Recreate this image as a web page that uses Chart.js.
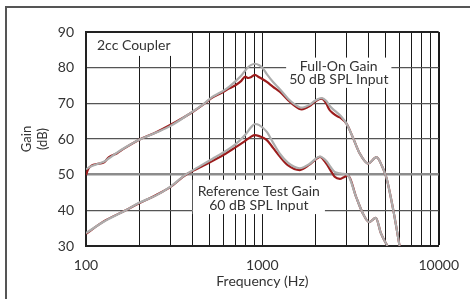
<!DOCTYPE html>
<html>
<head>
<meta charset="utf-8">
<script src="https://cdn.jsdelivr.net/npm/chart.js@4.4.1/dist/chart.umd.min.js"></script>
<style>
  html, body { margin: 0; padding: 0; background: #fff; }
  canvas { display: block; }
</style>
</head>
<body>
<canvas id="gainChart" width="470" height="299"></canvas>
<script>
// Full-On Gain, 50 dB SPL input (Hz / dB)
const fullOnFreq = [100, 103, 108, 115, 126, 135, 150, 164, 200, 250, 300, 400, 470, 520, 570, 600, 650, 700, 760, 800, 830, 860, 906, 960, 1000, 1060, 1150, 1260, 1400, 1500, 1670, 1850, 2000, 2170, 2300, 2400, 2520, 2650, 2800, 3000, 3250, 3560, 3980, 4440, 4750, 5050, 5520, 6000];
const fullOnGray = [51.5, 51.9, 52.4, 52.9, 53.6, 54.6, 56.2, 57.4, 59.8, 61.8, 63.6, 67.6, 70.0, 71.8, 72.9, 73.5, 74.7, 76.1, 77.8, 79.2, 80.1, 80.7, 81.1, 80.7, 80.0, 78.2, 76.0, 73.9, 71.3, 70.0, 68.8, 69.6, 70.8, 71.5, 70.7, 69.4, 68.3, 67.4, 66.3, 64.3, 60.6, 56.0, 53.1, 54.9, 52.6, 49.2, 40.2, 30.0];
const fullOnRed = [49.9, 51.6, 52.6, 53.0, 53.4, 54.9, 56.0, 57.3, 59.8, 61.9, 63.9, 67.5, 69.9, 71.6, 72.6, 73.2, 74.2, 75.0, 76.3, 77.5, 77.1, 77.3, 78.0, 77.3, 76.8, 76.0, 74.6, 73.2, 70.9, 69.6, 68.3, 69.2, 70.6, 71.3, 70.0, 68.2, 67.2, 66.4, 65.8, 64.3, 60.6, 56.0, 53.1, 54.9, 52.6, 49.2, 40.2, 30.0];

// Reference Test Gain, 60 dB SPL input
const refFreq = [100, 126, 168, 200, 250, 300, 367, 450, 520, 600, 700, 800, 860, 906, 960, 1060, 1150, 1260, 1400, 1630, 1850, 2000, 2120, 2300, 2450, 2570, 2750, 2900, 3060, 3400, 3710, 4030, 4400, 4700, 5120];
const refGray = [33.6, 36.8, 40.0, 42.1, 44.2, 46.6, 50.0, 52.6, 54.4, 56.2, 58.4, 61.2, 63.2, 64.2, 63.9, 62.0, 59.0, 55.8, 53.3, 51.8, 53.0, 54.4, 55.1, 53.9, 52.0, 50.8, 50.4, 50.2, 49.8, 43.8, 39.2, 36.7, 37.9, 33.6, 30.0];
const refRed = [33.4, 36.9, 40.0, 42.0, 44.3, 46.5, 49.9, 52.2, 53.8, 55.5, 57.6, 59.5, 60.6, 61.1, 60.8, 59.7, 57.5, 55.0, 52.6, 51.3, 52.8, 54.2, 55.0, 53.2, 51.0, 49.4, 48.8, 49.3, 49.8, 43.8, 39.2, 36.7, 37.9, 33.6, 30.0];

const xLabels = [100, 1000, 10000];
const yTicks = [30, 40, 50, 60, 70, 80, 90];

// log grid: 1..9 in each decade
const xGrid = [];
for (let i = 0; i < xLabels.length - 1; i++) {
  for (let k = 1; k <= 9; k++) xGrid.push(k * xLabels[i]);
}
xGrid.push(xLabels[xLabels.length - 1]);

function toPoints(freqs, vals) {
  return freqs.map((f, i) => ({ x: f, y: vals[i] }));
}

const GRAY = '#adadad';
const RED = '#9c1c1c';
const TEXT = '#333';

// text notes anchored in data coords, white box behind them hides the grid
const notes = [
  { lines: ['Full-On Gain', '50 dB SPL Input'], f: 2712, v: 80.3, padX: 3, padTop: 9, padBottom: 8 },
  { lines: ['Reference Test Gain', '60 dB SPL Input'], f: 955, v: 45.2, padX: 5, padTop: 12, padBottom: 9 }
];
const corner = { text: '2cc Coupler', f: 115.4, v: 86.1 };

const notePlugin = {
  id: 'notes',
  beforeDatasetsDraw(chart) {
    const { ctx, chartArea, scales } = chart;
    ctx.save();
    ctx.font = '14px Lato';
    ctx.textBaseline = 'middle';

    // corner label
    const cx = scales.x.getPixelForValue(corner.f);
    const cy = scales.y.getPixelForValue(corner.v);
    const cw = ctx.measureText(corner.text).width;
    ctx.fillStyle = '#fff';
    ctx.fillRect(chartArea.left + 1, chartArea.top + 1, cx + cw + 2 - chartArea.left - 1, cy + 10 - chartArea.top - 1);
    ctx.fillStyle = TEXT;
    ctx.textAlign = 'left';
    ctx.fillText(corner.text, cx, cy);

    ctx.textAlign = 'center';
    const lh = 13.3;
    notes.forEach(n => {
      const x = scales.x.getPixelForValue(n.f);
      const y = scales.y.getPixelForValue(n.v);
      const w = Math.max(...n.lines.map(t => ctx.measureText(t).width));
      const last = y + lh * (n.lines.length - 1);
      ctx.fillStyle = '#fff';
      ctx.fillRect(x - w / 2 - n.padX, y - n.padTop, w + 2 * n.padX, last + n.padBottom - (y - n.padTop));
      ctx.fillStyle = TEXT;
      n.lines.forEach((t, i) => ctx.fillText(t, x, y + i * lh));
    });
    ctx.restore();
  }
};

const framePlugin = {
  id: 'frame',
  afterDraw(chart) {
    const ctx = chart.ctx;
    ctx.save();
    ctx.strokeStyle = '#555';
    ctx.lineWidth = 2;
    ctx.beginPath();
    ctx.moveTo(6, 299);
    ctx.lineTo(6, 7);
    ctx.lineTo(470, 7);
    ctx.stroke();
    ctx.restore();
  }
};

const lineStyle = { pointRadius: 0, fill: false, cubicInterpolationMode: 'monotone' };

new Chart(document.getElementById('gainChart'), {
  type: 'line',
  data: {
    datasets: [
      { label: 'Full-On Gain (gray)', data: toPoints(fullOnFreq, fullOnGray), borderColor: GRAY, borderWidth: 2.2, order: 1, ...lineStyle },
      { label: 'Reference Test Gain (gray)', data: toPoints(refFreq, refGray), borderColor: GRAY, borderWidth: 2.2, order: 1, ...lineStyle },
      { label: 'Full-On Gain', data: toPoints(fullOnFreq, fullOnRed), borderColor: RED, borderWidth: 2.2, order: 2, ...lineStyle },
      { label: 'Reference Test Gain', data: toPoints(refFreq, refRed), borderColor: RED, borderWidth: 2.2, order: 2, ...lineStyle }
    ]
  },
  options: {
    responsive: false,
    animation: false,
    devicePixelRatio: 1,
    layout: { padding: { left: 0, right: 31, top: 32, bottom: 0 } },
    plugins: { legend: { display: false }, tooltip: { enabled: false } },
    scales: {
      x: {
        type: 'logarithmic',
        min: 100,
        max: 10000,
        afterBuildTicks: s => { s.ticks = xGrid.map(v => ({ value: v })); },
        afterFit: s => { s.height = 53; },
        border: { display: true, color: '#222', width: 2 },
        grid: {
          drawTicks: false,
          color: '#1a1a1a',
          lineWidth: c => (c.tick && c.tick.value === 10000 ? 2 : 1)
        },
        ticks: {
          autoSkip: false,
          maxRotation: 0,
          padding: 11,
          color: TEXT,
          font: { family: 'Lato', size: 14 },
          callback: v => (xLabels.includes(v) ? String(v) : '')
        },
        title: {
          display: true,
          text: 'Frequency (Hz)',
          color: TEXT,
          font: { family: 'Lato', size: 14 },
          padding: { top: 0, bottom: 9 }
        }
      },
      y: {
        min: 30,
        max: 90,
        afterBuildTicks: s => { s.ticks = yTicks.map(v => ({ value: v })); },
        afterFit: s => { s.width = 86; },
        border: { display: true, color: '#222', width: 2 },
        grid: {
          drawTicks: false,
          color: c => {
            const v = c.tick && c.tick.value;
            if (v === 50) return '#8c8c8c';
            if (v === 90) return '#222';
            return '#555';
          },
          lineWidth: c => {
            const v = c.tick && c.tick.value;
            if (v === 50) return 2.5;
            if (v === 90) return 2;
            return 1.2;
          }
        },
        ticks: {
          padding: 12,
          color: TEXT,
          font: { family: 'Lato', size: 14 }
        },
        title: {
          display: true,
          text: ['Gain', '(dB)'],
          color: TEXT,
          font: { family: 'Lato', size: 13 },
          padding: { top: 19, bottom: 0 }
        }
      }
    }
  },
  plugins: [notePlugin, framePlugin]
});
</script>
</body>
</html>
